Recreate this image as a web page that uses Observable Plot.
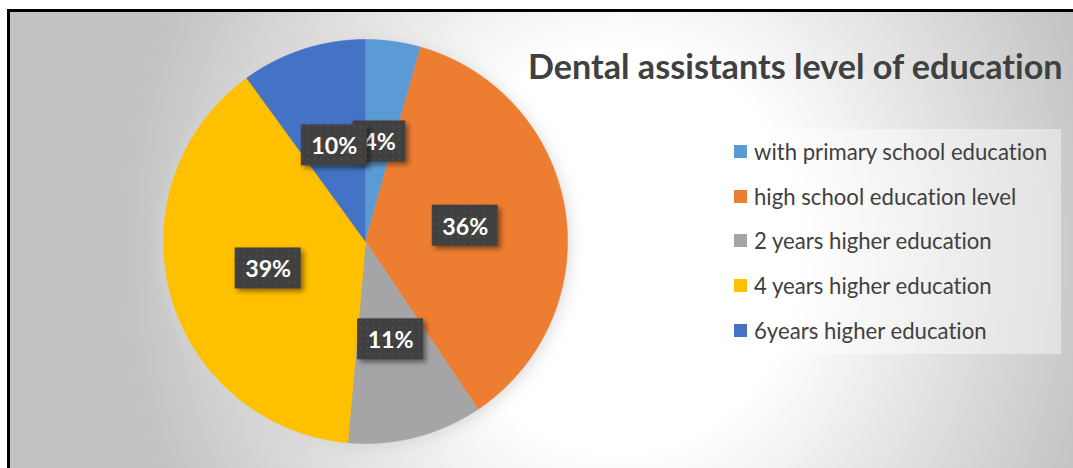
<!DOCTYPE html>
<html><head><meta charset="utf-8">
<script src="https://cdn.jsdelivr.net/npm/d3@7"></script>
<script src="https://cdn.jsdelivr.net/npm/@observablehq/plot@0.6"></script>
<style>
html,body{margin:0;padding:0;background:#fff;}
#wrap{position:relative;width:1073px;height:468px;overflow:hidden;background:#fff;}
#frame{position:absolute;left:7px;top:9px;width:1100px;height:500px;border-left:3px solid #000;border-top:3px solid #000;
  background:radial-gradient(ellipse 500px 560px at 610px 238px,#ffffff 0%,#ffffff 36%,#c2c2c2 100%);}
#chart{position:absolute;left:0;top:0;}
#chart text{font-variant-ligatures:none;font-feature-settings:"liga" 0,"clig" 0;}
#legendbox{position:absolute;left:722px;top:129px;width:339px;height:225px;background:rgba(255,255,255,0.42);box-sizing:border-box;padding-left:12px;}
.lg-swatches{font-family:Lato,sans-serif;color:#404040;margin:0;font-variant-ligatures:none;font-feature-settings:"liga" 0,"clig" 0;}
.lg-swatch{height:44.75px;margin:0;padding:0 !important;display:flex;align-items:center;}
.lg-swatch > svg{margin-right:7px;}
</style>
</head><body>
<svg width="0" height="0" style="position:absolute"><defs>
<pattern id="dots" width="6.5" height="6.5" patternUnits="userSpaceOnUse">
<rect width="6.5" height="6.5" fill="#404040"/><rect x="2" y="2" width="2" height="2" fill="#4d4d4d"/>
</pattern></defs></svg>
<div id="wrap"><div id="frame"></div><div id="chart"></div><div id="legendbox"></div></div>
<script>
// ---- data ----
const titleText = "Dental assistants level of education";
const categories = ["with primary school education","high school education level","2 years higher education","4 years higher education","6years higher education"];
const values = [4.4, 36.2, 10.8, 38.6, 10.0];
const colors = ["#5b9bd5","#ed7d31","#a5a5a5","#ffc000","#4472c4"];

// ---- layout ----
const W = 1073, H = 468, CX = 365, CY = 241, R = 202;
const FONT = "Lato";

const ctx = document.createElement("canvas").getContext("2d");
function fit(text, weight, target) {
  ctx.font = `${weight} 100px ${FONT}`;
  return 100 * target / ctx.measureText(text).width;
}
const labelSize = fit("10%", 700, 46);
const legendSize = fit(categories[0], 400, 294);
const titleSize = fit(titleText, 700, 536);

const total = d3.sum(values);
let acc = 0;
const slices = values.map((v, i) => {
  const a0 = acc / total * 2 * Math.PI; acc += v;
  const a1 = acc / total * 2 * Math.PI;
  const mid = (a0 + a1) / 2;
  const label = Math.round(v / total * 100) + "%";
  ctx.font = `700 ${labelSize}px ${FONT}`;
  const tw = ctx.measureText(label).width;
  return {cat: categories[i], a0, a1, cx: 0.5 * Math.sin(mid), cy: 0.5 * Math.cos(mid), label, hw: (tw / 2 + 10) / R, hh: 20.5 / R};
});
const pts = slices.flatMap(s => {
  const n = Math.max(2, Math.ceil((s.a1 - s.a0) / (Math.PI / 360)));
  const out = [{x: 0, y: 0, cat: s.cat}];
  for (let k = 0; k <= n; k++) {
    const a = s.a0 + (s.a1 - s.a0) * k / n;
    out.push({x: Math.sin(a), y: Math.cos(a), cat: s.cat});
  }
  return out;
});

const colorScale = {type: "ordinal", domain: categories, range: colors};
const marks = [
  Plot.line(pts, {x: "x", y: "y", z: "cat", fill: "cat", stroke: "cat", strokeWidth: 0.6, curve: "linear"})
];
slices.forEach(s => {
  marks.push(Plot.rect([s], {x1: d => d.cx - d.hw, x2: d => d.cx + d.hw, y1: d => d.cy - d.hh, y2: d => d.cy + d.hh, fill: "url(#dots)"}));
  marks.push(Plot.text([s], {x: "cx", y: "cy", text: "label", fill: "white", fontWeight: 700, fontSize: labelSize, fontFamily: FONT, dy: 1.5}));
});

const svg = Plot.plot({
  width: W, height: H, margin: 0,
  x: {domain: [-1, 1], range: [CX - R, CX + R], axis: null},
  y: {domain: [-1, 1], range: [CY + R, CY - R], axis: null},
  color: colorScale,
  style: {background: "transparent", overflow: "visible"},
  marks
});
d3.select(svg).selectAll('g[aria-label="line"]').style("filter", "drop-shadow(0px 3px 9px #d4d4d4)");
d3.select(svg).selectAll('g[aria-label="rect"]').style("filter", "drop-shadow(3px 3px 2.5px rgba(0,0,0,0.45))");
d3.select(svg).append("text").attr("x", 528).attr("y", 78.5).attr("text-anchor", "start")
  .attr("font-family", FONT).attr("font-weight", 700).attr("font-size", titleSize)
  .attr("fill", "#404040").text(titleText);
document.getElementById("chart").appendChild(svg);

const legend = Plot.legend({color: colorScale, legend: "swatches", columns: 1, swatchSize: 13, className: "lg"});
legend.style.fontSize = legendSize + "px";
document.getElementById("legendbox").appendChild(legend);
</script>
</body></html>
